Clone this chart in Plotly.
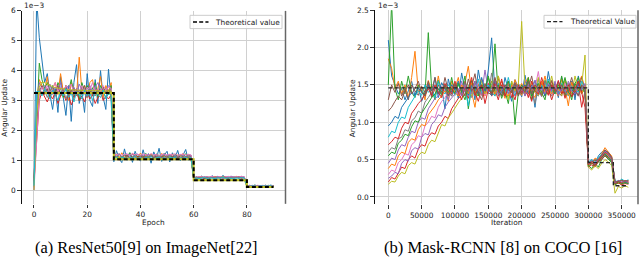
import plotly.graph_objects as go

# ---------------- data: (a) ResNet50 on ImageNet ----------------
epochs = list(range(0, 91))
resnet_blue = [0.0, 6.4, 5.1, 4.3, 3.6, 3.9, 3.2, 2.7, 3.4, 2.6, 3.8, 3.1, 2.5, 3.5, 2.3, 3.6, 4.2, 2.9, 3.3, 2.6, 3.9, 3.0, 2.8, 3.7, 2.9, 4.0, 3.1, 2.7, 4.05, 3.0,
               0.95, 1.32, 1.05, 0.92, 1.38, 1.0, 1.25, 0.93, 1.3, 1.08, 0.97, 1.35, 1.02, 1.22, 0.9, 1.28, 1.05, 1.4, 0.96, 1.18, 1.3, 0.94, 1.25, 1.07, 1.33, 0.98, 1.2, 1.36, 1.0, 1.15,
               0.38, 0.45, 0.40, 0.47, 0.39, 0.44, 0.42, 0.48, 0.40, 0.46, 0.41, 0.49, 0.43, 0.39, 0.47, 0.42, 0.45, 0.40, 0.46, 0.43,
               0.13, 0.16, 0.12, 0.17, 0.14, 0.15, 0.12, 0.16, 0.14, 0.17, 0.13]
resnet_orange = [0.2, 3.0, 3.7, 3.5, 3.3, 3.8, 3.1, 3.4, 3.6, 3.2, 3.9, 3.3, 3.5, 3.0, 3.6, 3.4, 3.2, 4.45, 3.3, 3.5, 3.1, 3.6, 3.7, 3.2, 3.4, 3.8, 3.1, 3.5, 3.3, 3.6,
                 1.12, 1.2, 1.08, 1.25, 1.1, 1.18, 1.05, 1.22, 1.14, 1.09, 1.24, 1.11, 1.17, 1.06, 1.21, 1.13, 1.19, 1.08, 1.23, 1.1, 1.16, 1.12, 1.2, 1.07, 1.18, 1.14, 1.22, 1.09, 1.17, 1.13,
                 0.41, 0.44, 0.42, 0.45, 0.40, 0.43, 0.44, 0.41, 0.46, 0.42, 0.44, 0.43, 0.45, 0.41, 0.44, 0.42, 0.46, 0.43, 0.44, 0.42,
                 0.14, 0.15, 0.13, 0.16, 0.14, 0.15, 0.14, 0.16, 0.13, 0.15, 0.14]
resnet_green = [0.1, 2.4, 4.25, 3.7, 3.4, 3.6, 3.3, 3.5, 3.2, 3.6, 3.4, 3.1, 3.5, 3.3, 3.7, 3.2, 3.4, 3.0, 3.6, 3.3, 3.5, 3.2, 3.4, 3.6, 3.1, 3.5, 3.3, 3.4, 3.2, 3.5,
                1.15, 1.1, 1.22, 1.08, 1.18, 1.13, 1.25, 1.06, 1.2, 1.12, 1.16, 1.09, 1.23, 1.11, 1.19, 1.07, 1.21, 1.14, 1.1, 1.24, 1.12, 1.17, 1.08, 1.2, 1.13, 1.18, 1.1, 1.22, 1.14, 1.16,
                0.42, 0.40, 0.44, 0.41, 0.43, 0.45, 0.40, 0.43, 0.42, 0.44, 0.41, 0.45, 0.42, 0.43, 0.40, 0.44, 0.42, 0.45, 0.41, 0.43,
                0.15, 0.13, 0.14, 0.16, 0.13, 0.15, 0.14, 0.13, 0.16, 0.14, 0.15]
resnet_red = [0.3, 1.8, 3.0, 3.3, 3.1, 2.95, 3.2, 3.05, 3.3, 2.9, 3.15, 3.25, 3.0, 3.2, 2.85, 3.1, 3.3, 3.0, 3.15, 2.95, 3.25, 3.05, 3.2, 2.9, 3.1, 3.3, 3.0, 3.15, 3.05, 3.2,
              1.05, 1.12, 1.0, 1.1, 1.04, 1.15, 1.02, 1.09, 1.06, 1.13, 1.01, 1.08, 1.11, 1.03, 1.14, 1.05, 1.1, 1.0, 1.12, 1.06, 1.09, 1.04, 1.13, 1.02, 1.1, 1.07, 1.12, 1.03, 1.08, 1.05,
              0.39, 0.41, 0.40, 0.42, 0.38, 0.41, 0.40, 0.43, 0.39, 0.41, 0.42, 0.40, 0.41, 0.39, 0.42, 0.40, 0.43, 0.41, 0.40, 0.42,
              0.13, 0.14, 0.12, 0.14, 0.13, 0.15, 0.12, 0.14, 0.13, 0.14, 0.13]
resnet_purple = [0.05, 2.8, 3.6, 3.4, 3.5, 3.3, 3.55, 3.2, 3.45, 3.35, 3.6, 3.25, 3.4, 3.5, 3.3, 3.45, 3.2, 3.55, 3.35, 3.4, 3.25, 3.5, 3.3, 3.45, 3.6, 3.35, 3.4, 3.25, 3.5, 3.4,
                 1.18, 1.13, 1.2, 1.1, 1.16, 1.22, 1.12, 1.19, 1.14, 1.21, 1.11, 1.17, 1.13, 1.2, 1.15, 1.12, 1.18, 1.1, 1.16, 1.21, 1.14, 1.19, 1.12, 1.17, 1.1, 1.2, 1.15, 1.13, 1.18, 1.16,
                 0.43, 0.41, 0.44, 0.42, 0.45, 0.41, 0.43, 0.44, 0.42, 0.45, 0.43, 0.41, 0.44, 0.42, 0.46, 0.43, 0.42, 0.44, 0.43, 0.45,
                 0.15, 0.14, 0.16, 0.14, 0.15, 0.13, 0.15, 0.16, 0.14, 0.15, 0.14]
resnet_brown = [0.4, 2.2, 3.3, 3.5, 3.2, 3.4, 3.1, 3.35, 3.25, 3.5, 3.15, 3.3, 3.45, 3.2, 3.35, 3.1, 3.4, 3.25, 3.3, 3.5, 3.2, 3.35, 3.15, 3.4, 3.3, 3.2, 3.45, 3.25, 3.35, 3.3,
                1.1, 1.14, 1.07, 1.12, 1.09, 1.16, 1.08, 1.13, 1.11, 1.06, 1.15, 1.1, 1.12, 1.08, 1.14, 1.09, 1.13, 1.07, 1.11, 1.15, 1.1, 1.08, 1.13, 1.11, 1.09, 1.14, 1.07, 1.12, 1.1, 1.13,
                0.40, 0.42, 0.41, 0.43, 0.40, 0.42, 0.41, 0.44, 0.40, 0.42, 0.43, 0.41, 0.42, 0.40, 0.43, 0.41, 0.42, 0.44, 0.41, 0.42,
                0.14, 0.13, 0.15, 0.14, 0.13, 0.14, 0.15, 0.13, 0.14, 0.15, 0.14]
resnet_pink = [0.0, 1.5, 3.2, 3.45, 3.3, 3.5, 3.25, 3.4, 3.6, 3.3, 3.45, 3.2, 3.5, 3.35, 3.55, 3.25, 3.4, 3.3, 3.5, 3.2, 3.45, 3.35, 3.6, 3.3, 3.4, 3.25, 3.5, 3.35, 3.45, 3.4,
               1.2, 1.18, 1.22, 1.16, 1.21, 1.19, 1.17, 1.23, 1.18, 1.2, 1.16, 1.21, 1.19, 1.17, 1.22, 1.18, 1.2, 1.16, 1.19, 1.21, 1.17, 1.2, 1.18, 1.22, 1.16, 1.19, 1.21, 1.17, 1.2, 1.18,
               0.44, 0.43, 0.45, 0.44, 0.43, 0.45, 0.44, 0.46, 0.43, 0.44, 0.45, 0.43, 0.44, 0.46, 0.44, 0.43, 0.45, 0.44, 0.46, 0.44,
               0.15, 0.16, 0.15, 0.14, 0.16, 0.15, 0.16, 0.14, 0.15, 0.16, 0.15]
resnet_gray = [0.25, 2.6, 3.4, 3.2, 3.35, 3.1, 3.3, 3.45, 3.15, 3.3, 3.2, 3.4, 3.05, 3.3, 3.25, 3.4, 3.15, 3.35, 3.2, 3.3, 3.1, 3.4, 3.25, 3.15, 3.35, 3.2, 3.3, 3.1, 3.25, 3.3,
               1.08, 1.11, 1.06, 1.13, 1.09, 1.12, 1.07, 1.1, 1.14, 1.08, 1.11, 1.06, 1.12, 1.09, 1.13, 1.07, 1.1, 1.12, 1.08, 1.11, 1.09, 1.13, 1.07, 1.1, 1.12, 1.08, 1.11, 1.09, 1.13, 1.1,
               0.41, 0.40, 0.42, 0.41, 0.43, 0.40, 0.42, 0.41, 0.43, 0.42, 0.40, 0.42, 0.41, 0.43, 0.41, 0.42, 0.40, 0.43, 0.42, 0.41,
               0.14, 0.13, 0.14, 0.15, 0.13, 0.14, 0.13, 0.15, 0.14, 0.13, 0.14]
resnet_olive = [0.0, 2.5, 3.45, 3.62, 3.6, 3.55, 3.5, 3.46, 3.43, 3.41, 3.4, 3.38, 3.37, 3.36, 3.36, 3.35, 3.35, 3.34, 3.34, 3.34, 3.33, 3.33, 3.33, 3.33, 3.32, 3.32, 3.32, 3.32, 3.32, 3.32,
                1.1, 1.09, 1.08, 1.08, 1.07, 1.07, 1.07, 1.06, 1.06, 1.06, 1.06, 1.06, 1.05, 1.05, 1.05, 1.05, 1.05, 1.05, 1.05, 1.05, 1.05, 1.05, 1.05, 1.05, 1.05, 1.05, 1.05, 1.05, 1.05, 1.05,
                0.36, 0.35, 0.35, 0.35, 0.34, 0.34, 0.34, 0.34, 0.34, 0.34, 0.34, 0.34, 0.34, 0.34, 0.34, 0.34, 0.34, 0.34, 0.34, 0.34,
                0.11, 0.11, 0.11, 0.11, 0.11, 0.11, 0.11, 0.11, 0.11, 0.11, 0.11]
resnet_cyan = [0.15, 3.3, 3.3, 3.15, 3.4, 3.25, 3.05, 3.35, 3.2, 3.0, 3.3, 3.15, 3.4, 3.1, 3.25, 2.95, 3.3, 3.2, 3.05, 3.35, 3.15, 3.25, 3.0, 3.3, 3.2, 3.1, 3.35, 3.05, 3.25, 3.15,
               1.06, 1.12, 1.04, 1.1, 1.08, 1.03, 1.11, 1.07, 1.13, 1.05, 1.09, 1.02, 1.1, 1.06, 1.12, 1.04, 1.08, 1.11, 1.05, 1.09, 1.03, 1.1, 1.07, 1.12, 1.04, 1.08, 1.06, 1.11, 1.05, 1.09,
               0.39, 0.41, 0.38, 0.40, 0.42, 0.39, 0.41, 0.40, 0.38, 0.41, 0.40, 0.42, 0.39, 0.41, 0.40, 0.38, 0.41, 0.39, 0.42, 0.40,
               0.13, 0.12, 0.14, 0.13, 0.12, 0.14, 0.13, 0.12, 0.13, 0.14, 0.12]
theory_epochs = [0, 30, 30, 60, 60, 80, 80, 90]
theory_resnet = [3.25, 3.25, 1.03, 1.03, 0.33, 0.33, 0.10, 0.10]
epoch_ticks = [0, 20, 40, 60, 80]
resnet_yticks = [0, 1, 2, 3, 4, 5, 6]

# ---------------- data: (b) Mask-RCNN on COCO ----------------
iterations = list(range(0, 360001, 5000))
mask_blue = [2.1, 1.62, 1.5, 1.38, 1.45, 1.3, 1.42, 1.55, 1.35, 1.48, 1.28, 1.4, 1.52, 1.36, 1.6, 1.33, 1.47, 1.18, 1.58, 1.4,
             1.5, 1.32, 1.66, 1.43, 1.37, 1.55, 1.3, 1.7, 1.45, 1.38, 1.7, 2.13, 1.4, 1.52, 1.35, 1.6, 1.42, 1.28, 1.57, 1.46,
             1.34, 1.63, 1.4, 1.5, 1.2, 1.58, 1.44, 1.36, 1.68, 1.42, 1.52, 1.33, 1.6, 1.45, 1.38, 1.55, 1.3, 1.62, 1.41, 1.48,
             0.45, 0.5, 0.42, 0.55, 0.6, 0.63, 0.58, 0.52, 0.19, 0.22, 0.18, 0.21, 0.2]
mask_orange = [1.85, 1.72, 1.45, 1.55, 1.38, 1.5, 1.32, 1.6, 1.95, 1.4, 1.48, 1.3, 1.56, 1.42, 1.35, 1.62, 1.38, 1.5, 1.28, 1.55,
               1.45, 1.6, 1.36, 1.52, 1.75, 1.4, 1.2, 1.5, 1.58, 1.35, 1.46, 1.55, 1.38, 1.62, 1.43, 1.32, 1.5, 1.4, 1.57, 1.45,
               1.36, 1.52, 1.6, 1.4, 1.33, 1.5, 1.45, 1.62, 1.38, 1.55, 1.42, 1.35, 1.58, 1.46, 1.22, 1.54, 1.4, 1.5, 1.62, 1.44,
               0.48, 0.44, 0.52, 0.5, 0.58, 0.66, 0.6, 0.55, 0.2, 0.18, 0.22, 0.19, 0.21]
mask_green = [1.5, 2.6, 1.45, 1.3, 1.55, 1.38, 1.62, 1.4, 1.33, 1.5, 1.42, 1.36, 2.2, 1.45, 1.3, 1.56, 1.4, 1.48, 1.35, 1.6,
              1.38, 1.5, 1.42, 1.62, 1.18, 1.46, 1.55, 1.36, 1.5, 1.4, 1.6, 1.45, 2.05, 1.35, 1.5, 1.42, 1.25, 1.55, 0.97, 1.4,
              1.48, 1.36, 1.6, 1.3, 1.5, 1.44, 1.38, 1.56, 1.42, 1.35, 1.5, 1.4, 1.62, 1.35, 1.46, 1.3, 1.52, 1.6, 1.38, 1.45,
              0.42, 0.38, 0.45, 0.4, 0.5, 0.55, 0.5, 0.46, 0.16, 0.19, 0.17, 0.2, 0.18]
mask_red = [0.2, 0.26, 0.24, 0.33, 0.4, 0.38, 0.5, 0.55, 0.52, 0.64, 0.7, 0.68, 0.8, 0.86, 0.84, 0.95, 1.0, 1.08, 1.05, 1.18,
            1.25, 1.32, 1.36, 1.45, 1.32, 1.5, 1.4, 1.28, 1.46, 1.38, 1.52, 1.35, 1.44, 1.3, 1.5, 1.4, 1.55, 1.33, 1.45, 1.38,
            1.5, 1.36, 1.42, 1.28, 1.48, 1.4, 1.55, 1.35, 1.45, 1.3, 1.44, 1.38, 1.5, 1.32, 1.46, 1.4, 1.36, 1.52, 1.2, 1.42,
            0.4, 0.43, 0.4, 0.47, 0.5, 0.56, 0.52, 0.48, 0.17, 0.19, 0.16, 0.18, 0.17]
mask_purple = [0.45, 0.52, 0.5, 0.63, 0.7, 0.68, 0.8, 0.88, 0.86, 1.0, 1.06, 1.04, 1.18, 1.25, 1.32, 1.35, 1.48, 1.42, 1.3, 1.5,
               1.44, 1.36, 1.55, 1.4, 1.47, 1.33, 1.52, 1.45, 1.38, 1.7, 1.42, 1.5, 1.36, 1.46, 1.55, 1.38, 1.44, 1.5, 1.35, 1.48,
               1.4, 1.56, 1.43, 1.37, 1.5, 1.42, 1.34, 1.52, 1.46, 1.4, 1.55, 1.38, 1.45, 1.5, 1.36, 1.48, 1.42, 1.35, 1.5, 1.44,
               0.46, 0.49, 0.45, 0.52, 0.56, 0.6, 0.57, 0.5, 0.2, 0.21, 0.19, 0.22, 0.2]
mask_brown = [1.3, 1.5, 1.4, 1.52, 1.35, 1.45, 1.3, 1.5, 1.42, 1.36, 1.48, 1.4, 1.55, 1.33, 1.45, 1.5, 1.38, 1.6, 1.42, 1.35,
              1.5, 1.44, 1.36, 1.55, 1.4, 1.48, 1.65, 1.38, 1.45, 1.52, 1.4, 1.36, 1.5, 1.58, 1.42, 1.35, 1.47, 1.4, 1.53, 1.44,
              1.38, 1.5, 1.45, 1.62, 1.4, 1.35, 1.52, 1.43, 1.38, 1.5, 1.46, 1.4, 1.35, 1.55, 1.42, 1.5, 1.38, 1.45, 1.6, 1.4,
              0.47, 0.46, 0.5, 0.48, 0.55, 0.62, 0.6, 0.53, 0.21, 0.2, 0.23, 0.2, 0.22]
mask_pink = [0.3, 0.36, 0.34, 0.46, 0.5, 0.58, 0.56, 0.7, 0.74, 0.82, 0.8, 0.95, 1.0, 1.08, 1.06, 1.2, 1.28, 1.33, 1.4, 1.36,
             1.45, 1.38, 1.5, 1.42, 1.35, 1.48, 1.4, 1.55, 1.43, 1.36, 1.5, 1.42, 1.38, 1.53, 1.45, 1.4, 1.35, 1.48, 1.42, 1.5,
             1.45, 1.38, 1.52, 1.4, 1.46, 1.68, 1.38, 1.44, 1.5, 1.36, 1.48, 1.42, 1.4, 1.53, 1.38, 1.45, 1.5, 1.4, 1.47, 1.43,
             0.44, 0.47, 0.43, 0.5, 0.53, 0.58, 0.55, 0.49, 0.18, 0.2, 0.19, 0.21, 0.19]
mask_gray = [0.6, 0.66, 0.64, 0.78, 0.8, 0.9, 0.88, 1.02, 1.06, 1.15, 1.12, 1.27, 1.33, 1.4, 1.36, 1.45, 1.38, 1.5, 1.42, 1.35,
             1.48, 1.4, 1.45, 1.52, 1.38, 1.44, 1.36, 1.5, 1.42, 1.46, 1.38, 1.66, 1.42, 1.4, 1.48, 1.35, 1.5, 1.44, 1.4, 1.52,
             1.43, 1.37, 1.5, 1.45, 1.25, 1.48, 1.36, 1.55, 1.42, 1.46, 1.4, 1.5, 1.38, 1.45, 1.52, 1.4, 1.46, 1.35, 1.48, 1.42,
             0.45, 0.48, 0.44, 0.49, 0.54, 0.59, 0.56, 0.5, 0.19, 0.2, 0.18, 0.2, 0.19]
mask_olive = [0.17, 0.21, 0.2, 0.28, 0.33, 0.31, 0.42, 0.46, 0.44, 0.55, 0.6, 0.58, 0.7, 0.76, 0.74, 0.86, 0.97, 0.95, 1.06, 1.12,
              1.2, 1.26, 1.32, 1.38, 1.44, 1.35, 1.48, 1.4, 1.55, 1.38, 1.45, 1.5, 1.36, 1.62, 1.4, 1.48, 1.3, 1.55, 1.42, 1.5,
              2.35, 1.45, 1.38, 1.55, 1.4, 1.6, 1.35, 1.5, 1.43, 1.62, 1.4, 1.52, 1.36, 1.58, 1.45, 1.38, 1.62, 1.44, 1.5, 1.9,
              0.4, 0.36, 0.42, 0.38, 0.45, 0.5, 0.47, 0.42, 0.05, 0.14, 0.12, 0.15, 0.13]
mask_cyan = [0.8, 0.88, 0.86, 1.0, 1.07, 1.05, 1.2, 1.28, 1.35, 1.42, 1.36, 1.5, 1.4, 1.45, 1.33, 1.55, 1.42, 1.38, 1.5, 1.44,
             1.36, 1.52, 1.4, 1.46, 1.22, 1.5, 1.42, 1.58, 1.38, 1.45, 1.5, 1.4, 1.35, 1.52, 1.46, 1.38, 1.6, 1.42, 1.36, 1.5,
             1.44, 1.38, 1.55, 1.4, 1.47, 1.35, 1.5, 1.42, 1.58, 1.4, 1.46, 1.38, 1.52, 1.42, 1.35, 1.5, 1.44, 1.4, 1.55, 1.45,
             0.47, 0.5, 0.46, 0.53, 0.57, 0.61, 0.58, 0.52, 0.22, 0.2, 0.24, 0.21, 0.23]
mask_blue2 = [0.95, 1.0, 1.08, 1.05, 1.2, 1.26, 1.33, 1.4, 1.36, 1.46, 1.4, 1.35, 1.5, 1.42, 1.48, 1.38, 1.53, 1.45, 1.36, 1.5,
              1.43, 1.55, 1.4, 1.47, 1.36, 1.5, 1.44, 1.38, 1.6, 1.42, 1.48, 1.36, 1.54, 1.43, 1.4, 1.5, 1.38, 1.46, 1.52, 1.4,
              1.45, 1.5, 1.38, 1.44, 1.56, 1.4, 1.48, 1.35, 1.5, 1.43, 1.38, 1.55, 1.42, 1.48, 1.4, 1.45, 1.36, 1.52, 1.44, 1.5,
              0.44, 0.46, 0.43, 0.48, 0.52, 0.57, 0.54, 0.48, 0.18, 0.21, 0.19, 0.2, 0.18]
mask_orange2 = [0.38, 0.44, 0.42, 0.55, 0.6, 0.58, 0.73, 0.78, 0.76, 0.9, 0.97, 0.95, 1.1, 1.16, 1.22, 1.3, 1.35, 1.42, 1.38, 1.48,
                1.4, 1.35, 1.5, 1.44, 1.38, 1.53, 1.4, 1.46, 1.36, 1.5, 1.42, 1.48, 1.38, 1.45, 1.55, 1.4, 1.35, 1.5, 1.44, 1.4,
                1.52, 1.38, 1.46, 1.42, 1.5, 1.36, 1.55, 1.4, 1.45, 1.38, 1.5, 1.44, 1.4, 1.48, 1.36, 1.52, 1.42, 1.46, 1.38, 1.5,
                0.43, 0.47, 0.44, 0.5, 0.55, 0.6, 0.56, 0.5, 0.19, 0.2, 0.18, 0.21, 0.2]
mask_green2 = [0.55, 0.6, 0.58, 0.72, 0.76, 0.84, 0.82, 0.94, 1.02, 1.0, 1.12, 1.2, 1.26, 1.33, 1.38, 1.45, 1.36, 1.5, 1.4, 1.46,
               1.38, 1.52, 1.42, 1.3, 1.48, 1.56, 1.4, 1.35, 1.5, 1.44, 1.62, 1.38, 1.45, 1.5, 1.32, 1.46, 1.55, 1.4, 1.48, 1.36,
               1.5, 1.42, 1.58, 1.35, 1.44, 1.52, 1.4, 1.3, 1.55, 1.46, 1.38, 1.5, 1.44, 1.6, 1.4, 1.35, 1.52, 1.42, 1.48, 1.4,
               0.41, 0.45, 0.42, 0.47, 0.52, 0.58, 0.53, 0.47, 0.17, 0.2, 0.18, 0.19, 0.18]
mask_red2 = [0.7, 0.74, 0.8, 0.78, 0.92, 1.0, 0.98, 1.12, 1.18, 1.25, 1.3, 1.38, 1.45, 1.36, 1.5, 1.4, 1.33, 1.52, 1.44, 1.38,
             1.55, 1.4, 1.3, 1.48, 1.42, 1.6, 1.36, 1.45, 1.5, 1.25, 1.44, 1.38, 1.52, 1.4, 1.58, 1.35, 1.46, 1.42, 1.3, 1.5,
             1.4, 1.48, 1.33, 1.55, 1.42, 1.38, 1.6, 1.45, 1.36, 1.5, 1.42, 1.56, 1.38, 1.46, 1.5, 1.34, 1.45, 1.55, 1.4, 1.2,
             0.43, 0.46, 0.42, 0.49, 0.53, 0.6, 0.57, 0.51, 0.18, 0.21, 0.19, 0.22, 0.2]
mask_purple2 = [0.25, 0.28, 0.33, 0.31, 0.45, 0.5, 0.48, 0.62, 0.66, 0.64, 0.8, 0.85, 0.83, 0.97, 1.02, 1.1, 1.08, 1.2, 1.27, 1.32,
                1.38, 1.45, 1.35, 1.5, 1.42, 1.38, 1.55, 1.44, 1.36, 1.5, 1.4, 1.46, 1.58, 1.36, 1.44, 1.5, 1.38, 1.45, 1.52, 1.4,
                1.48, 1.35, 1.5, 1.44, 1.56, 1.4, 1.46, 1.38, 1.52, 1.42, 1.5, 1.36, 1.45, 1.4, 1.55, 1.42, 1.38, 1.48, 1.44, 1.52,
                0.45, 0.48, 0.44, 0.51, 0.55, 0.61, 0.58, 0.51, 0.19, 0.22, 0.2, 0.21, 0.2]
mask_brown2 = [1.15, 1.2, 1.28, 1.35, 1.3, 1.42, 1.5, 1.38, 1.45, 1.55, 1.4, 1.35, 1.48, 1.42, 1.6, 1.38, 1.45, 1.5, 1.36, 1.44,
               1.52, 1.4, 1.46, 1.35, 1.58, 1.42, 1.48, 1.4, 1.3, 1.5, 1.45, 1.38, 1.6, 1.42, 1.36, 1.5, 1.44, 1.4, 1.52, 1.35,
               1.46, 1.4, 1.55, 1.38, 1.5, 1.44, 1.36, 1.48, 1.42, 1.56, 1.4, 1.46, 1.5, 1.38, 1.44, 1.6, 1.42, 1.36, 1.5, 1.45,
               0.46, 0.47, 0.49, 0.5, 0.56, 0.63, 0.59, 0.53, 0.2, 0.21, 0.22, 0.21, 0.22]
theory_iters = [0, 300000, 300000, 337500, 337500, 360000]
theory_mask = [1.46, 1.46, 0.46, 0.46, 0.15, 0.15]
iter_ticks = [0, 50000, 100000, 150000, 200000, 250000, 300000, 350000]
iter_ticktext = ["0", "50000", "100000", "150000", "200000", "250000", "300000", "350000"]
mask_yticks = [0.0, 0.5, 1.0, 1.5, 2.0, 2.5]
mask_yticktext = ["0.0", "0.5", "1.0", "1.5", "2.0", "2.5"]

# ---------------- styling ----------------
TAB10 = ["#1f77b4", "#ff7f0e", "#2ca02c", "#d62728", "#9467bd",
         "#8c564b", "#e377c2", "#7f7f7f", "#bcbd22", "#17becf"]
W, H = 640, 257
SANS = "DejaVu Sans"
SERIF = "Liberation Serif"
GRID = "#d0d0d0"

def px(x):
    return x / W

def py(y):
    return 1 - y / H

resnet_series = [resnet_blue, resnet_orange, resnet_green, resnet_red, resnet_purple,
                 resnet_brown, resnet_pink, resnet_gray, resnet_olive, resnet_cyan]
mask_series = [mask_blue, mask_orange, mask_green, mask_red, mask_purple, mask_brown,
               mask_pink, mask_gray, mask_olive, mask_cyan, mask_blue2, mask_orange2,
               mask_green2, mask_red2, mask_purple2, mask_brown2]
for s in resnet_series:
    assert len(s) == len(epochs), len(s)
for s in mask_series:
    assert len(s) == len(iterations), len(s)

fig = go.Figure()
for i, s in enumerate(resnet_series):
    fig.add_trace(go.Scatter(x=epochs, y=s, mode="lines", xaxis="x", yaxis="y",
                             line=dict(color=TAB10[i % 10], width=1)))
# theoretical value (olive underlay + black dashes)
fig.add_trace(go.Scatter(x=theory_epochs, y=theory_resnet, mode="lines", xaxis="x", yaxis="y",
                         line=dict(color="#bcbd22", width=2)))
fig.add_trace(go.Scatter(x=theory_epochs, y=theory_resnet, mode="lines", xaxis="x", yaxis="y",
                         line=dict(color="black", width=2, dash="4px,2.5px"),
                         name="Theoretical value"))

for i, s in enumerate(mask_series):
    fig.add_trace(go.Scatter(x=iterations, y=s, mode="lines", xaxis="x2", yaxis="y2",
                             line=dict(color=TAB10[i % 10], width=1)))
fig.add_trace(go.Scatter(x=theory_iters, y=theory_mask, mode="lines", xaxis="x2", yaxis="y2",
                         line=dict(color="#222222", width=1.3, dash="4px,2.5px"),
                         name="Theoretical Value"))

tickfont = dict(family=SANS, size=7.4, color="#222")
common_x = dict(showgrid=True, gridcolor=GRID, gridwidth=1, zeroline=False, showline=False,
                ticks="outside", ticklen=3.5, tickcolor="#333", tickwidth=1, tickfont=tickfont)
common_y = dict(showgrid=True, gridcolor=GRID, gridwidth=1, zeroline=False, showline=True,
                linecolor="#111", linewidth=1.2, ticks="outside", ticklen=3.5, tickcolor="#333",
                tickwidth=1, tickfont=tickfont)

fig.update_layout(
    width=W, height=H, margin=dict(l=0, r=0, t=0, b=0),
    paper_bgcolor="white", plot_bgcolor="white", showlegend=False, hovermode=False,
    xaxis=dict(domain=[px(22), px(285.5)], range=[-4.5, 94.5], tickvals=epoch_ticks,
               anchor="y", **common_x),
    yaxis=dict(domain=[py(203), py(7)], range=[-0.46, 6.0], tickvals=resnet_yticks,
               anchor="x", **common_y),
    xaxis2=dict(domain=[px(375), px(638)], range=[-19950, 374480], tickvals=iter_ticks,
                ticktext=iter_ticktext, anchor="y2", **common_x),
    yaxis2=dict(domain=[py(203.3), py(6.3)], range=[-0.096, 2.5], tickvals=mask_yticks,
                ticktext=mask_yticktext, anchor="x2", **common_y),
)

shapes = []
# right-hand frame lines
shapes.append(dict(type="line", xref="paper", yref="paper", x0=px(285.5), x1=px(285.5),
                   y0=py(203), y1=py(7), line=dict(color="#666", width=1.5)))
shapes.append(dict(type="line", xref="paper", yref="paper", x0=px(638), x1=px(638),
                   y0=py(203.3), y1=py(6.3), line=dict(color="#666", width=1.5)))
# legend boxes
shapes.append(dict(type="rect", xref="paper", yref="paper", x0=px(190), x1=px(282),
                   y0=py(25), y1=py(11.5), line=dict(color="#cccccc", width=1),
                   fillcolor="rgba(255,255,255,0.85)"))
shapes.append(dict(type="line", xref="paper", yref="paper", x0=px(193), x1=px(208.5),
                   y0=py(18.3), y1=py(18.3), line=dict(color="black", width=1.6, dash="4px,2.2px")))
shapes.append(dict(type="rect", xref="paper", yref="paper", x0=px(544), x1=px(636),
                   y0=py(24.5), y1=py(11.5), line=dict(color="#cccccc", width=1),
                   fillcolor="rgba(255,255,255,0.85)"))
shapes.append(dict(type="line", xref="paper", yref="paper", x0=px(547), x1=px(562.5),
                   y0=py(18), y1=py(18), line=dict(color="#222", width=1.3, dash="4px,2.2px")))
fig.update_layout(shapes=shapes)

label_font = dict(family=SANS, size=7.4, color="#222")
ann = [
    dict(text="Theoretical value", x=px(213), y=py(18.3), xanchor="left", yanchor="middle", font=label_font),
    dict(text="Theoretical Value", x=px(568), y=py(18), xanchor="left", yanchor="middle", font=label_font),
    dict(text="1e\u22123", x=px(21.5), y=py(1.5), xanchor="left", yanchor="middle", font=label_font),
    dict(text="1e\u22123", x=px(375.5), y=py(1.5), xanchor="left", yanchor="middle", font=label_font),
    dict(text="Angular Update", x=px(4.5), y=py(106), textangle=-90, xanchor="center", yanchor="middle", font=label_font),
    dict(text="Angular Update", x=px(352), y=py(106), textangle=-90, xanchor="center", yanchor="middle", font=label_font),
    dict(text="Epoch", x=px(153.5), y=py(221.5), xanchor="center", yanchor="middle", font=label_font),
    dict(text="Iteration", x=px(507), y=py(221.5), xanchor="center", yanchor="middle", font=label_font),
    dict(text="(a) ResNet50[9] on ImageNet[22]", x=px(146.5), y=py(247.5), xanchor="center", yanchor="middle",
         font=dict(family=SERIF, size=16.4, color="black")),
    dict(text="(b) Mask-RCNN [8] on COCO [16]", x=px(502.5), y=py(247.5), xanchor="center", yanchor="middle",
         font=dict(family=SERIF, size=16.6, color="black")),
]
for a in ann:
    a.update(xref="paper", yref="paper", showarrow=False)
fig.update_layout(annotations=ann)

# remove the browser's default page margin so the 640x257 figure fills the window exactly
fig.write_html("out.html", config={"displayModeBar": False, "staticPlot": True},
               post_script="document.body.style.margin='0';document.body.style.padding='0';document.body.style.overflow='hidden';")
